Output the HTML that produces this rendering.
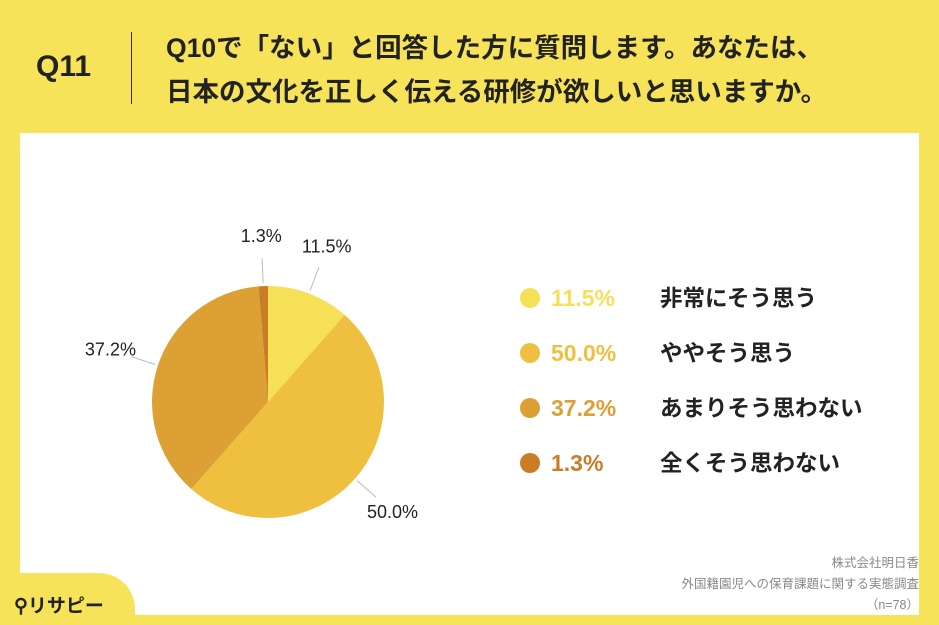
<!DOCTYPE html>
<html><head><meta charset="utf-8"><style>
body{margin:0;width:939px;height:625px;background:#f6e35a;font-family:"Liberation Sans","Noto Sans CJK JP",sans-serif;position:relative;overflow:hidden}
.abs{position:absolute}
</style></head><body>
<div class="abs" style="left:36px;top:50px;font-size:30px;font-weight:bold;color:#222">Q11</div>
<div class="abs" style="left:131px;top:32px;width:1px;height:72px;background:#333"></div>
<div class="abs" style="left:166px;top:26px;font-size:26.5px;font-weight:bold;color:#222;line-height:44px;white-space:nowrap">Q10で「ない」と回答した方に質問します。あなたは、<br>日本の文化を正しく伝える研修が欲しいと思いますか。</div>
<div class="abs" style="left:20px;top:133px;width:899px;height:482px;background:#fff"></div>
<div class="abs" style="left:0;top:573px;width:135px;height:52px;background:#f6e35a;border-top-right-radius:36px"></div>
<div class="abs" style="left:14px;top:591px;font-size:19px;font-weight:bold;color:#222">⚲リサピー</div>
<div class="abs" style="right:20px;top:553px;font-size:12.5px;color:#888;text-align:right;line-height:21px">株式会社明日香<br>外国籍園児への保育課題に関する実態調査<br>（n=78）</div>
<svg class="abs" style="left:0;top:0" width="939" height="625" id="pie"></svg>
<script>
const categories=["非常にそう思う","ややそう思う","あまりそう思わない","全くそう思わない"];
const values=[11.5,50.0,37.2,1.3];
const labels=["11.5%","50.0%","37.2%","1.3%"];
const colors=["#f5e058","#efbf3f","#dca035","#c97d24"];
const svg=document.getElementById('pie');const NS="http://www.w3.org/2000/svg";
const cx=268,cy=402,r=116;
const total=values.reduce((a,b)=>a+b,0);
function pt(a,rr){return [cx+rr*Math.sin(a),cy-rr*Math.cos(a)];}
let a0=0;
values.forEach((v,i)=>{
 const a1=a0+v/total*2*Math.PI;
 const p0=pt(a0,r),p1=pt(a1,r);
 const path=document.createElementNS(NS,'path');
 path.setAttribute('d',`M${cx},${cy} L${p0[0]},${p0[1]} A${r},${r} 0 ${a1-a0>Math.PI?1:0} 1 ${p1[0]},${p1[1]} Z`);
 path.setAttribute('fill',colors[i]);
 
 
 svg.appendChild(path);
 const m=(a0+a1)/2;const q0=pt(m,r+3),q1=pt(m,r+28);
 const ln=document.createElementNS(NS,'line');
 ln.setAttribute('x1',q0[0]);ln.setAttribute('y1',q0[1]);ln.setAttribute('x2',q1[0]);ln.setAttribute('y2',q1[1]);
 ln.setAttribute('stroke','#bbb');ln.setAttribute('stroke-width','1');
 
 
 svg.appendChild(ln);
 const q2=pt(m,r+50);
 const t=document.createElementNS(NS,'text');
 t.setAttribute('x',q2[0]);t.setAttribute('y',q2[1]+6);t.setAttribute('text-anchor','middle');
 t.setAttribute('font-size','18');t.setAttribute('fill','#222');t.setAttribute('font-family','Liberation Sans, sans-serif');
 t.textContent=labels[i];
 
 
 svg.appendChild(t);
 const ly=298+i*55;
 const c=document.createElementNS(NS,'circle');
 c.setAttribute('cx',530);c.setAttribute('cy',ly);c.setAttribute('r',10);c.setAttribute('fill',colors[i]);
 
 
 svg.appendChild(c);
 const lv=document.createElementNS(NS,'text');
 lv.setAttribute('x',551);lv.setAttribute('y',ly+8);lv.setAttribute('font-size','23');lv.setAttribute('font-weight','bold');lv.setAttribute('fill',colors[i]);lv.setAttribute('font-family','Liberation Sans, sans-serif');
 lv.textContent=labels[i];
 
 
 svg.appendChild(lv);
 const lt=document.createElementNS(NS,'text');
 lt.setAttribute('x',660);lt.setAttribute('y',ly+8);lt.setAttribute('font-size','22.5');lt.setAttribute('font-weight','bold');lt.setAttribute('fill','#222');lt.setAttribute('font-family','Liberation Sans, Noto Sans CJK JP, sans-serif');
 lt.textContent=categories[i];
 
 
 svg.appendChild(lt);
 a0=a1;
});
</script>
</body></html>
